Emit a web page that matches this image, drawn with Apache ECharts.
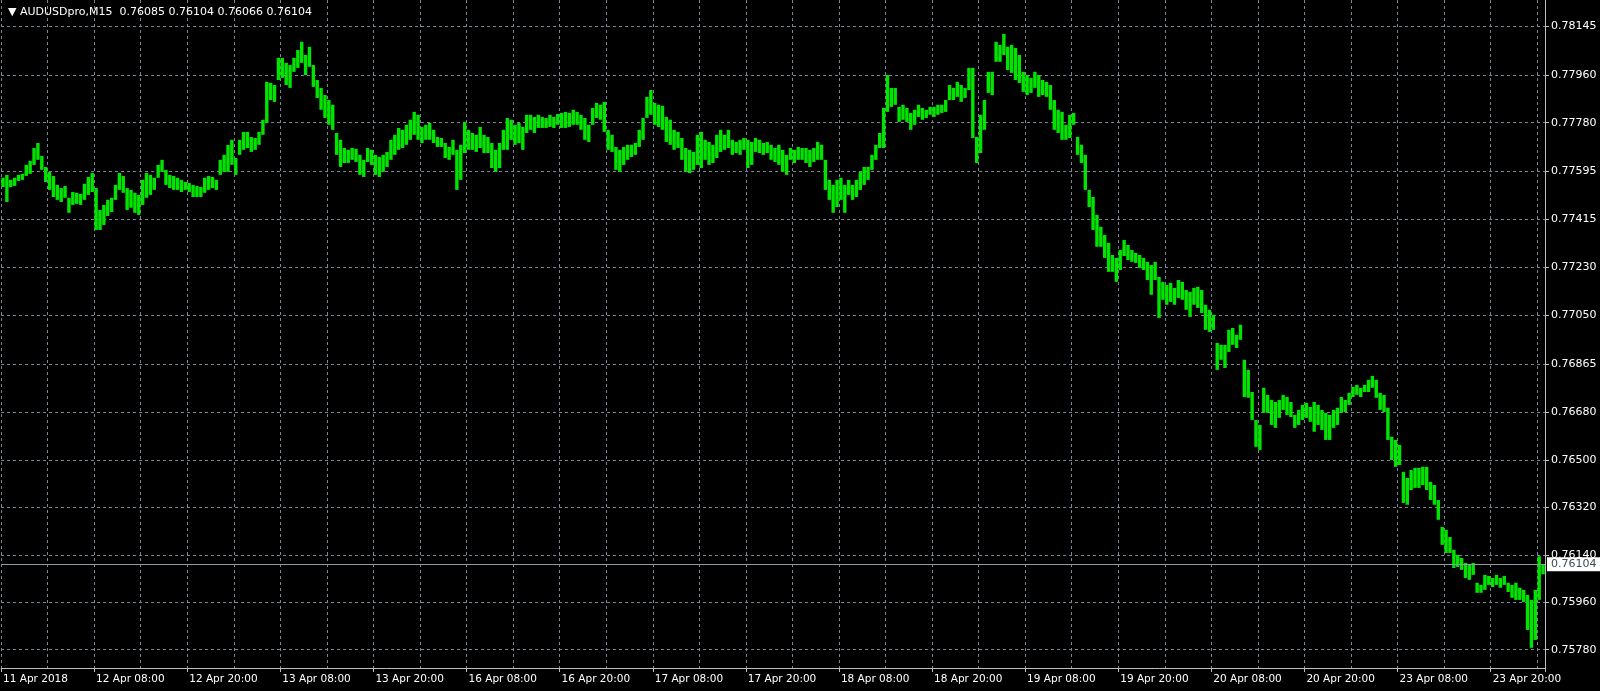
<!DOCTYPE html>
<html><head><meta charset="utf-8">
<script src="https://cdn.jsdelivr.net/npm/echarts@6/dist/echarts.min.js"></script>
<style>html,body{margin:0;padding:0;background:#000;}#c{width:1600px;height:691px;}</style>
</head><body><div id="c"></div>
<script>
const symbolName = 'AUDUSDpro,M15';
const lastBar = [0.76085, 0.76104, 0.76066, 0.76104];
const yTicks = [0.78145,0.77960,0.77780,0.77595,0.77415,0.77230,0.77050,0.76865,0.76680,0.76500,0.76320,0.76140,0.75960,0.75780];
const xTickLabels = ['11 Apr 2018','12 Apr 08:00','12 Apr 20:00','13 Apr 08:00','13 Apr 20:00','16 Apr 08:00','16 Apr 20:00','17 Apr 08:00','17 Apr 20:00','18 Apr 08:00','18 Apr 20:00','19 Apr 08:00','19 Apr 20:00','20 Apr 08:00','20 Apr 20:00','23 Apr 08:00','23 Apr 20:00'];
const highs = [
0.77571,0.77582,0.77563,0.77571,0.77582,0.77586,0.77620,0.77635,0.77684,0.77703,
0.77654,0.77612,0.77593,0.77578,0.77544,0.77532,0.77540,0.77495,0.77517,0.77514,
0.77510,0.77548,0.77574,0.77589,0.77532,0.77449,0.77468,0.77487,0.77495,0.77544,
0.77589,0.77578,0.77532,0.77525,0.77514,0.77506,0.77563,0.77589,0.77582,0.77571,
0.77620,0.77639,0.77601,0.77582,0.77578,0.77571,0.77563,0.77555,0.77551,0.77544,
0.77540,0.77536,0.77571,0.77578,0.77574,0.77563,0.77639,0.77658,0.77696,0.77715,
0.77646,0.77715,0.77745,0.77745,0.77726,0.77722,0.77745,0.77791,0.77935,0.77931,
0.77923,0.78026,0.78026,0.78007,0.77999,0.78026,0.78056,0.78087,0.78037,0.78068,
0.77999,0.77942,0.77912,0.77885,0.77866,0.77848,0.77741,0.77715,0.77684,0.77677,
0.77684,0.77681,0.77658,0.77639,0.77684,0.77677,0.77658,0.77650,0.77658,0.77669,
0.77715,0.77734,0.77760,0.77753,0.77772,0.77791,0.77821,0.77810,0.77764,0.77772,
0.77779,0.77753,0.77726,0.77722,0.77703,0.77688,0.77715,0.77677,0.77696,0.77783,
0.77753,0.77741,0.77734,0.77764,0.77734,0.77726,0.77703,0.77677,0.77703,0.77753,
0.77798,0.77791,0.77772,0.77779,0.77764,0.77810,0.77810,0.77802,0.77810,0.77802,
0.77798,0.77810,0.77802,0.77813,0.77817,0.77821,0.77817,0.77829,0.77821,0.77810,
0.77798,0.77772,0.77836,0.77855,0.77848,0.77859,0.77753,0.77734,0.77688,0.77677,
0.77688,0.77696,0.77696,0.77703,0.77753,0.77798,0.77878,0.77904,0.77855,0.77848,
0.77844,0.77802,0.77791,0.77753,0.77745,0.77722,0.77684,0.77677,0.77669,0.77734,
0.77745,0.77715,0.77707,0.77696,0.77734,0.77753,0.77734,0.77753,0.77715,0.77707,
0.77715,0.77722,0.77715,0.77707,0.77722,0.77715,0.77703,0.77707,0.77696,0.77684,
0.77696,0.77677,0.77658,0.77684,0.77677,0.77688,0.77684,0.77684,0.77677,0.77684,
0.77707,0.77696,0.77639,0.77563,0.77544,0.77563,0.77571,0.77544,0.77563,0.77544,
0.77563,0.77593,0.77612,0.77612,0.77658,0.77696,0.77741,0.77836,0.77961,0.77912,
0.77912,0.77840,0.77848,0.77836,0.77817,0.77829,0.77848,0.77836,0.77829,0.77840,
0.77840,0.77848,0.77848,0.77866,0.77923,0.77912,0.77935,0.77923,0.77912,0.77988,
0.77988,0.77726,0.77810,0.77866,0.77973,0.77973,0.78087,0.78075,0.78117,0.78068,
0.78075,0.78064,0.78037,0.77973,0.77961,0.77950,0.77973,0.77961,0.77942,0.77935,
0.77923,0.77866,0.77829,0.77821,0.77772,0.77810,0.77817,0.77726,0.77696,0.77658,
0.77525,0.77498,0.77430,0.77385,0.77354,0.77324,0.77278,0.77267,0.77297,0.77335,
0.77316,0.77297,0.77286,0.77278,0.77267,0.77252,0.77240,0.77252,0.77195,0.77176,
0.77164,0.77172,0.77153,0.77183,0.77176,0.77145,0.77138,0.77153,0.77157,0.77145,
0.77089,0.77070,0.77051,0.76944,0.76937,0.76937,0.76994,0.77001,0.76975,0.77013,
0.76880,0.76842,0.76758,0.76652,0.76633,0.76774,0.76747,0.76728,0.76720,0.76728,
0.76747,0.76739,0.76720,0.76671,0.76690,0.76709,0.76717,0.76701,0.76720,0.76709,
0.76690,0.76679,0.76671,0.76690,0.76698,0.76739,0.76728,0.76755,0.76777,0.76785,
0.76774,0.76785,0.76804,0.76819,0.76804,0.76755,0.76747,0.76698,0.76588,0.76576,
0.76557,0.76455,0.76432,0.76462,0.76470,0.76470,0.76474,0.76474,0.76417,0.76405,
0.76348,0.76246,0.76235,0.76208,0.76159,0.76140,0.76128,0.76109,0.76102,0.76109,
0.76034,0.76026,0.76064,0.76060,0.76052,0.76064,0.76052,0.76060,0.76034,0.76026,
0.76034,0.76015,0.76007,0.75988,0.75969,0.76007,0.76135,0.76104];
const lows = [
0.77536,0.77479,0.77536,0.77540,0.77559,0.77563,0.77578,0.77586,0.77620,0.77639,
0.77601,0.77555,0.77525,0.77498,0.77487,0.77479,0.77495,0.77438,0.77468,0.77472,
0.77468,0.77487,0.77506,0.77517,0.77373,0.77373,0.77392,0.77426,0.77441,0.77487,
0.77525,0.77514,0.77449,0.77457,0.77438,0.77430,0.77468,0.77495,0.77506,0.77525,
0.77571,0.77593,0.77544,0.77532,0.77525,0.77525,0.77517,0.77525,0.77517,0.77498,
0.77498,0.77498,0.77514,0.77525,0.77532,0.77525,0.77582,0.77593,0.77593,0.77620,
0.77582,0.77658,0.77677,0.77684,0.77669,0.77677,0.77696,0.77734,0.77779,0.77866,
0.77859,0.77942,0.77950,0.77923,0.77912,0.77973,0.77988,0.78007,0.77961,0.77992,
0.77916,0.77874,0.77829,0.77798,0.77772,0.77753,0.77658,0.77612,0.77627,0.77627,
0.77639,0.77631,0.77582,0.77574,0.77631,0.77620,0.77582,0.77574,0.77593,0.77612,
0.77639,0.77658,0.77677,0.77684,0.77696,0.77715,0.77734,0.77715,0.77703,0.77715,
0.77715,0.77703,0.77688,0.77688,0.77646,0.77639,0.77658,0.77525,0.77563,0.77665,
0.77677,0.77677,0.77669,0.77684,0.77665,0.77665,0.77608,0.77593,0.77608,0.77677,
0.77677,0.77715,0.77696,0.77703,0.77677,0.77741,0.77753,0.77741,0.77760,0.77760,
0.77760,0.77764,0.77760,0.77772,0.77760,0.77760,0.77764,0.77772,0.77772,0.77753,
0.77715,0.77707,0.77772,0.77798,0.77791,0.77745,0.77677,0.77669,0.77601,0.77593,
0.77620,0.77639,0.77650,0.77658,0.77688,0.77715,0.77798,0.77810,0.77772,0.77764,
0.77753,0.77707,0.77696,0.77677,0.77684,0.77639,0.77593,0.77589,0.77601,0.77620,
0.77608,0.77639,0.77620,0.77627,0.77646,0.77669,0.77677,0.77684,0.77658,0.77665,
0.77658,0.77677,0.77608,0.77620,0.77669,0.77665,0.77658,0.77665,0.77639,0.77631,
0.77620,0.77593,0.77582,0.77639,0.77627,0.77639,0.77639,0.77627,0.77612,0.77631,
0.77639,0.77639,0.77525,0.77487,0.77438,0.77460,0.77487,0.77438,0.77506,0.77487,
0.77498,0.77525,0.77544,0.77563,0.77601,0.77639,0.77684,0.77684,0.77821,0.77840,
0.77848,0.77783,0.77791,0.77783,0.77753,0.77772,0.77802,0.77791,0.77798,0.77810,
0.77802,0.77810,0.77817,0.77821,0.77866,0.77866,0.77878,0.77859,0.77874,0.77904,
0.77722,0.77627,0.77665,0.77753,0.77893,0.77885,0.78011,0.78011,0.78037,0.77980,
0.77969,0.77942,0.77931,0.77897,0.77885,0.77893,0.77912,0.77878,0.77885,0.77878,
0.77829,0.77753,0.77741,0.77715,0.77715,0.77722,0.77772,0.77658,0.77627,0.77525,
0.77460,0.77373,0.77309,0.77309,0.77267,0.77214,0.77214,0.77176,0.77221,0.77274,
0.77259,0.77252,0.77248,0.77229,0.77221,0.77183,0.77127,0.77183,0.77039,0.77108,
0.77089,0.77100,0.77089,0.77115,0.77108,0.77070,0.77043,0.77089,0.77077,0.77058,
0.76994,0.76986,0.76994,0.76842,0.76880,0.76849,0.76910,0.76937,0.76925,0.76956,
0.76739,0.76736,0.76652,0.76550,0.76538,0.76679,0.76679,0.76633,0.76622,0.76660,
0.76690,0.76671,0.76663,0.76622,0.76633,0.76652,0.76660,0.76645,0.76607,0.76633,
0.76614,0.76576,0.76576,0.76622,0.76633,0.76679,0.76682,0.76709,0.76739,0.76747,
0.76739,0.76758,0.76758,0.76774,0.76736,0.76690,0.76682,0.76576,0.76500,0.76474,
0.76481,0.76337,0.76330,0.76386,0.76394,0.76394,0.76405,0.76386,0.76348,0.76330,
0.76273,0.76178,0.76147,0.76147,0.76090,0.76094,0.76083,0.76052,0.76045,0.76064,
0.75996,0.75996,0.76007,0.76026,0.76018,0.76026,0.76015,0.76026,0.75999,0.75977,
0.75969,0.75969,0.75961,0.75855,0.75787,0.75817,0.75969,0.76066];

// 30-minute bar times, starting 11 Apr 2018 20:00, skipping weekends
const categories = [];
let t = Date.UTC(2018, 3, 11, 20, 0);
while (categories.length < highs.length) {
  const d = new Date(t);
  const wd = d.getUTCDay();
  if (wd !== 0 && wd !== 6) {
    const p = n => String(n).padStart(2, '0');
    categories.push(d.getUTCFullYear() + '-' + p(d.getUTCMonth() + 1) + '-' + p(d.getUTCDate()) + ' ' + p(d.getUTCHours()) + ':' + p(d.getUTCMinutes()));
  }
  t += 1800000;
}
const barData = highs.map((h, i) => [i, lows[i], h]);

const FONT = 'DejaVu Sans';
const chart = echarts.init(document.getElementById('c'), null, {renderer: 'canvas'});
chart.setOption({
  backgroundColor: '#000000',
  animation: false,
  title: {
    text: '\u25BC ' + symbolName + '  ' + lastBar.map(v => v.toFixed(5)).join(' '),
    left: 3, top: 2,
    textStyle: {color: '#ffffff', fontSize: 11, fontWeight: 'normal', fontFamily: FONT}
  },
  grid: {left: -0.5, right: 55, top: 0, bottom: 23},
  xAxis: {
    type: 'category', data: categories, boundaryGap: true,
    axisLine: {show: true, lineStyle: {color: '#c0c0c0', width: 1}},
    axisTick: {show: true, interval: i => i % 24 === 0, length: 4, lineStyle: {color: '#c0c0c0'}},
    axisLabel: {
      interval: i => i % 24 === 0,
      formatter: (v, i) => xTickLabels[i / 24],
      color: '#ffffff', fontSize: 10.5, fontFamily: FONT, align: 'left', margin: 6, hideOverlap: false
    },
    splitLine: {show: true, interval: i => i % 12 === 0, lineStyle: {color: '#7d8896', type: [3, 3], width: 1}}
  },
  yAxis: {
    type: 'value', position: 'right', min: 0.7571055, max: 0.7824561,
    axisLine: {show: true, lineStyle: {color: '#c0c0c0', width: 1}},
    axisTick: {show: true, customValues: yTicks, length: 4, lineStyle: {color: '#c0c0c0'}},
    axisLabel: {customValues: yTicks, formatter: v => v.toFixed(5), color: '#ffffff', fontSize: 11, fontFamily: FONT, margin: 6},
    splitLine: {show: true, lineStyle: {color: '#7d8896', type: [3, 3], width: 1}}
  },
  series: [{
    type: 'custom',
    data: barData,
    encode: {x: 0, y: [1, 2]},
    renderItem: function (params, api) {
      const lo = api.coord([api.value(0), api.value(1)]);
      const hi = api.coord([api.value(0), api.value(2)]);
      const w = 3.4;
      return {
        type: 'rect',
        shape: {x: lo[0] - w / 2, y: hi[1], width: w, height: Math.max(1, lo[1] - hi[1])},
        style: {fill: '#00e400'}
      };
    }
  }, {
    type: 'line',
    data: [],
    silent: true,
    markLine: {
      silent: true, symbol: ['none', 'none'], animation: false, precision: 5,
      data: [{yAxis: lastBar[3]}],
      lineStyle: {color: '#8e9aa6', type: 'solid', width: 1},
      label: {
        show: true, position: 'end', formatter: () => lastBar[3].toFixed(5),
        color: '#3a4a5a', backgroundColor: '#ffffff', padding: [2, 4, 1, 4],
        fontSize: 11, fontFamily: FONT, distance: 2
      }
    }
  }]
});
</script>
</body></html>
